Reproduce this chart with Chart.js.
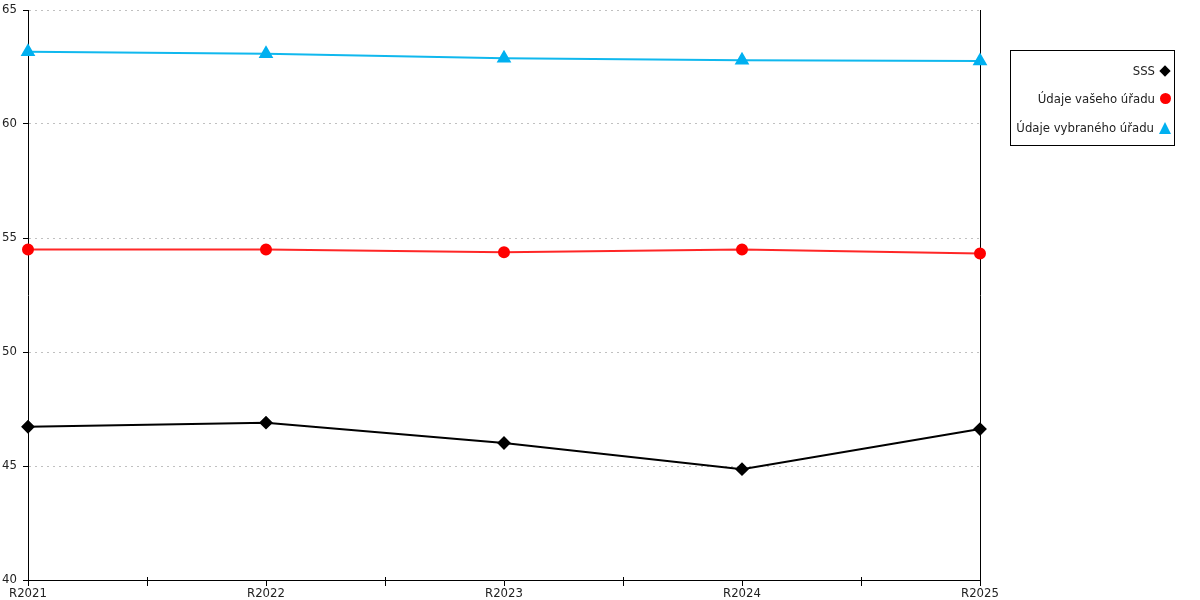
<!DOCTYPE html>
<html>
<head>
<meta charset="utf-8">
<script src="https://cdn.jsdelivr.net/npm/chart.js@4/dist/chart.umd.min.js"></script>
<style>
  html, body { margin: 0; padding: 0; background: #fff; }
  #wrap { position: relative; width: 1200px; height: 600px; }
  #legend {
    position: absolute; left: 1010px; top: 50px; width: 163px; height: 94px;
    border: 1px solid #000; font-family: "DejaVu Sans Condensed", "DejaVu Sans", sans-serif; font-size: 13px; color: #222;
    box-sizing: content-box;
  }
  .item { position: absolute; right: 3px; display: flex; align-items: center; white-space: nowrap; }
  .item span.mk { display: inline-block; margin-left: 5px; }
</style>
</head>
<body>
<div id="wrap">
  <canvas id="chart" width="1200" height="600"></canvas>
  <div id="legend"></div>
</div>
<script>
const labels = ['R2021', 'R2022', 'R2023', 'R2024', 'R2025'];
const sss = [46.72, 46.90, 46.01, 44.86, 46.62];
const vaseUrad = [54.50, 54.50, 54.37, 54.50, 54.32];
const vybranyUrad = [63.17, 63.08, 62.88, 62.80, 62.76];
const yTicks = [40, 45, 50, 55, 60, 65];

const fontFamily = '"DejaVu Sans Condensed", "DejaVu Sans", sans-serif';

// small tick marks between categories on the x axis
const midTicks = {
  id: 'midTicks',
  afterDraw(chart) {
    const x = chart.scales.x;
    const ctx = chart.ctx;
    const bottom = chart.chartArea.bottom;
    ctx.save();
    ctx.strokeStyle = '#000';
    ctx.lineWidth = 1;
    for (let i = 0; i < labels.length - 1; i++) {
      const px = Math.round(x.getPixelForValue(i + 0.5)) + 0.5;
      ctx.beginPath();
      ctx.moveTo(px, bottom - 3);
      ctx.lineTo(px, bottom + 6);
      ctx.stroke();
    }
    ctx.restore();
  }
};

const chart = new Chart(document.getElementById('chart'), {
  type: 'line',
  data: {
    labels: labels,
    datasets: [{
      label: 'SSS',
      data: sss,
      borderColor: '#000000',
      backgroundColor: '#000000',
      borderWidth: 2,
      pointStyle: 'rectRot',
      pointRadius: 5.5,
      tension: 0
    }, {
      label: 'Údaje vašeho úřadu',
      data: vaseUrad,
      borderColor: 'rgba(255,0,0,0.85)',
      backgroundColor: '#ff0000',
      pointBorderColor: '#ff0000',
      borderWidth: 2,
      pointStyle: 'circle',
      pointRadius: 5,
      tension: 0
    }, {
      label: 'Údaje vybraného úřadu',
      data: vybranyUrad,
      borderColor: '#10b8ee',
      backgroundColor: '#00b0f0',
      pointBorderColor: '#00b0f0',
      borderWidth: 2,
      pointStyle: 'triangle',
      pointRadius: 6.5,
      tension: 0
    }]
  },
  options: {
    responsive: false,
    animation: false,
    layout: { padding: { top: 10, right: 220, bottom: 0, left: 0 } },
    plugins: {
      legend: { display: false },
      tooltip: { enabled: false }
    },
    scales: {
      x: {
        offset: false,
        grid: { drawOnChartArea: false, drawTicks: true, tickLength: 6, tickColor: '#000' },
        border: { color: '#000', width: 1 },
        ticks: {
          color: '#222', padding: 0, maxRotation: 0, autoSkip: false,
          font: { family: fontFamily, size: 13 }
        },
        afterFit(scale) { scale.height = 20; }
      },
      y: {
        min: 40,
        max: 65,
        afterBuildTicks(scale) { scale.ticks = yTicks.map(v => ({ value: v })); },
        grid: { color: '#c0c0c0', tickColor: '#000', tickLength: 5, lineWidth: 1 },
        border: { color: '#000', width: 1, dash: [2, 4] },
        ticks: { color: '#222', padding: 6, font: { family: fontFamily, size: 13, lineHeight: 0.5 } },
        afterFit(scale) { scale.width = 28; }
      },
      y2: {
        position: 'right',
        min: 40,
        max: 65,
        grid: { drawOnChartArea: false, drawTicks: false },
        border: { color: '#000', width: 1 },
        ticks: { display: false },
        afterFit(scale) { scale.width = 0; }
      }
    }
  },
  plugins: [midTicks]
});

// legend built from the datasets
const legend = document.getElementById('legend');
const rows = [20, 48, 77];
chart.data.datasets.forEach((ds, i) => {
  const item = document.createElement('div');
  item.className = 'item';
  item.style.top = (rows[i] - 8) + 'px';
  const txt = document.createElement('span');
  txt.textContent = ds.label;
  const mk = document.createElement('span');
  mk.className = 'mk';
  if (ds.pointStyle === 'rectRot') {
    mk.style.cssText = 'width:8px;height:8px;background:' + ds.backgroundColor + ';transform:rotate(45deg);margin-left:6px;margin-right:2px;';
  } else if (ds.pointStyle === 'circle') {
    mk.style.cssText = 'width:11px;height:11px;border-radius:50%;background:' + ds.backgroundColor + ';';
  } else {
    mk.style.cssText = 'width:0;height:0;border-left:6.5px solid transparent;border-right:6.5px solid transparent;border-bottom:12px solid ' + ds.backgroundColor + ';';
  }
  item.appendChild(txt);
  item.appendChild(mk);
  legend.appendChild(item);
});
</script>
</body>
</html>
